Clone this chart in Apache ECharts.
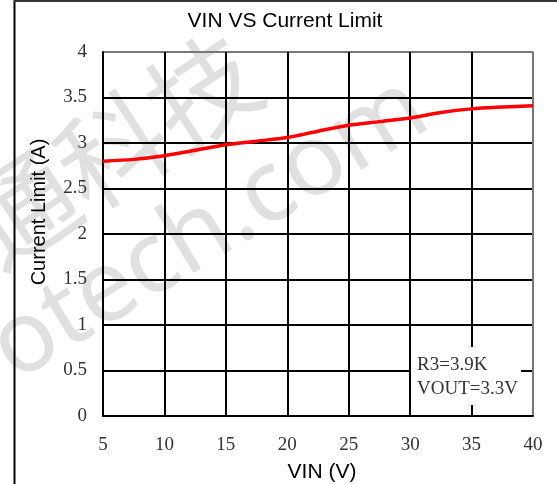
<!DOCTYPE html>
<html>
<head>
<meta charset="utf-8">
<script src="https://cdn.jsdelivr.net/npm/echarts@6/dist/echarts.min.js"></script>
<style>
html,body{margin:0;padding:0;background:#fff;}
#c{width:557px;height:484px;}
</style>
</head>
<body>
<div id="c"></div>
<script>
var vinValues = [5, 7.5, 10, 12.5, 15, 17.5, 20, 22.5, 25, 27.5, 30, 32.5, 35, 37.5, 40];
var currentLimit = [2.80, 2.82, 2.86, 2.92, 2.98, 3.02, 3.06, 3.13, 3.195, 3.235, 3.275, 3.335, 3.375, 3.395, 3.41];
var titleText = 'VIN VS Current Limit';
var xAxisName = 'VIN (V)';
var yAxisName = 'Current Limit (A)';
var noteLines = ['R3=3.9K', 'VOUT=3.3V'];
var watermark1 = '通科技';
var watermark2 = 'otech.com';

var NARROW = '"Liberation Sans Narrow", "Liberation Sans", sans-serif';
var SERIF = '"Liberation Serif", "DejaVu Serif", serif';

var chart = echarts.init(document.getElementById('c'), null, {renderer: 'canvas'});
var pts = vinValues.map(function (v, i) { return [v, currentLimit[i]]; });

var ySplitColors = [];
for (var i = 0; i < 8; i++) ySplitColors.push('#000');
ySplitColors.push('#777');
var xSplitColors = [];
for (var j = 0; j < 7; j++) xSplitColors.push('#000');
xSplitColors.push('#777');

chart.setOption({
  animation: false,
  backgroundColor: '#fff',
  title: {
    text: titleText,
    left: 280, top: 6, textAlign: 'center',
    textStyle: {fontFamily: NARROW, fontSize: 21, fontWeight: 'normal', color: '#000'}
  },
  grid: {left: 103, right: 24, top: 52, bottom: 68, show: false},
  xAxis: {
    type: 'value', min: 5, max: 40, interval: 5,
    axisLine: {show: true, onZero: false, lineStyle: {color: '#000', width: 2}},
    axisTick: {show: false},
    axisLabel: {fontFamily: SERIF, fontSize: 19, color: '#333', margin: 20},
    splitLine: {show: true, lineStyle: {color: xSplitColors, width: 2}}
  },
  yAxis: {
    type: 'value', min: 0, max: 4, interval: 0.5,
    axisLine: {show: true, lineStyle: {color: '#000', width: 2}},
    axisTick: {show: false},
    axisLabel: {fontFamily: SERIF, fontSize: 19, color: '#333', margin: 16},
    splitLine: {show: true, lineStyle: {color: ySplitColors, width: 2}}
  },
  series: [{
    type: 'line',
    data: pts,
    smooth: 0.3,
    showSymbol: false,
    lineStyle: {color: '#ff0000', width: 3.5},
    z: 5
  }],
  graphic: [
    {type: 'text', z: -10, x: 112, y: 150, rotation: 0.58,
     style: {text: watermark1, fontFamily: '"Noto Sans CJK SC", sans-serif', fontSize: 108, fill: '#e0e0e0', align: 'center', verticalAlign: 'middle'}},
    {type: 'text', z: -10, x: 0, y: 358, rotation: 0.55,
     style: {text: watermark2, fontFamily: '"Noto Sans", sans-serif', fontSize: 100, fill: '#e0e0e0', align: 'left', verticalAlign: 'middle'}},
    {type: 'line', z: 20, shape: {x1: 14.5, y1: 0, x2: 14.5, y2: 484}, style: {stroke: '#000', lineWidth: 2}},
    {type: 'line', z: 20, shape: {x1: 14, y1: 1, x2: 557, y2: 1}, style: {stroke: '#333', lineWidth: 2}},
    {type: 'text', z: 20, x: 322, y: 472,
     style: {text: xAxisName, fontFamily: NARROW, fontSize: 21, fill: '#000', align: 'center', verticalAlign: 'middle'}},
    {type: 'text', z: 20, x: 39, y: 212, rotation: Math.PI / 2,
     style: {text: yAxisName, fontFamily: NARROW, fontSize: 20, fill: '#000', align: 'center', verticalAlign: 'middle'}},
    {type: 'rect', z: 15, shape: {x: 411, y: 347, width: 110, height: 58}, style: {fill: '#fff'}},
    {type: 'text', z: 20, x: 417, y: 365,
     style: {text: noteLines[0], fontFamily: SERIF, fontSize: 19, fill: '#333', align: 'left', verticalAlign: 'middle'}},
    {type: 'text', z: 20, x: 417, y: 389,
     style: {text: noteLines[1], fontFamily: SERIF, fontSize: 19, fill: '#333', align: 'left', verticalAlign: 'middle'}}
  ]
});
</script>
</body>
</html>
